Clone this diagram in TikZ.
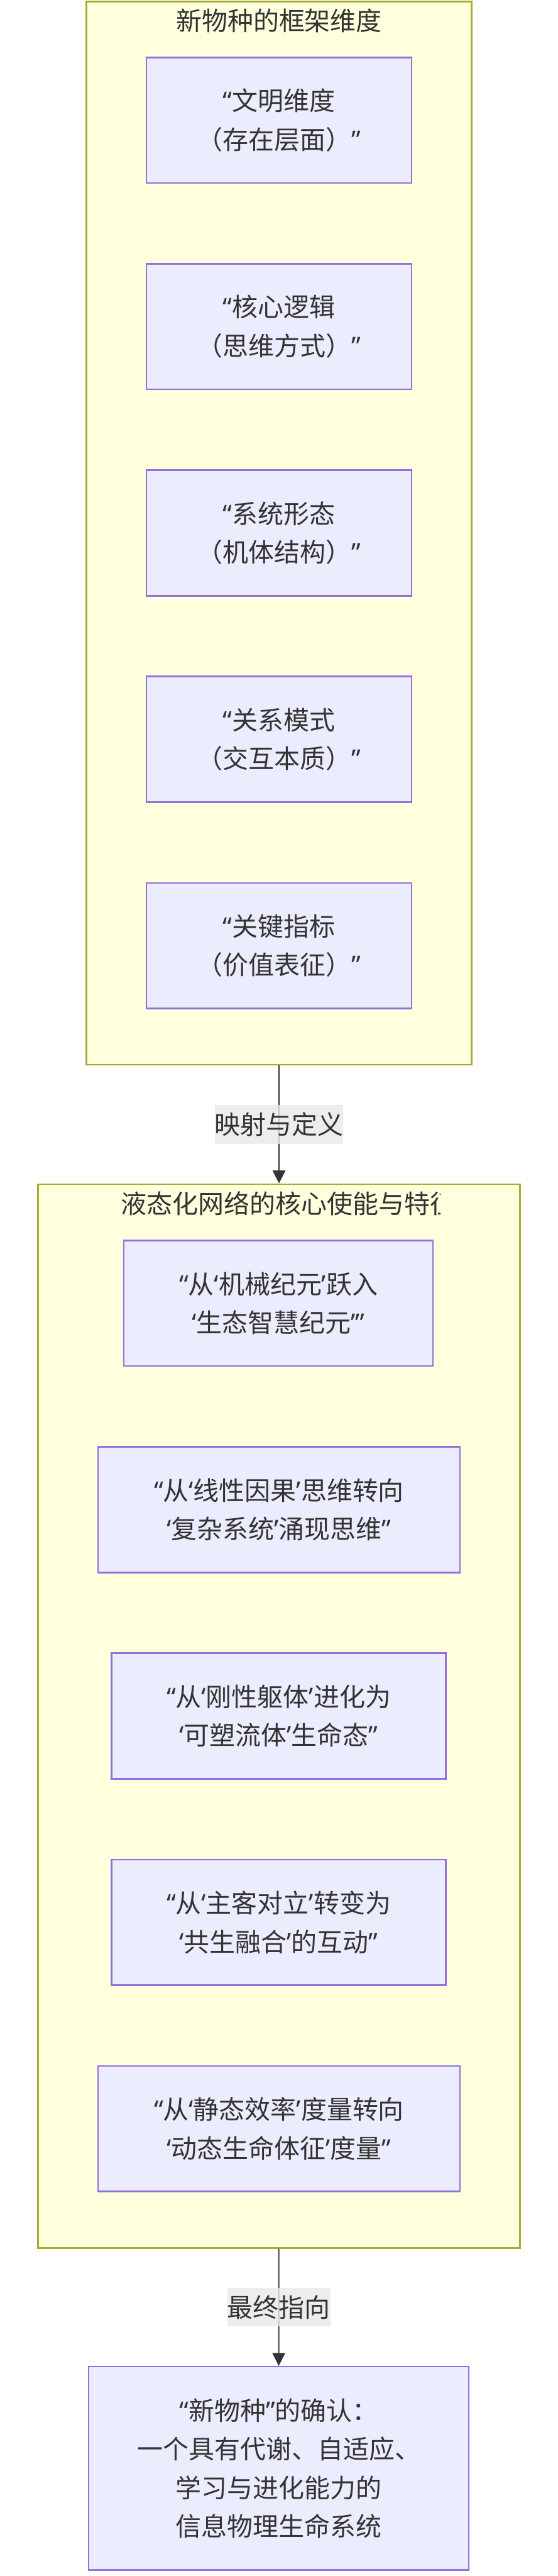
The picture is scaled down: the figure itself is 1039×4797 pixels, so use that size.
\documentclass[tikz,border=0pt]{standalone}
\usepackage{fontspec}
\setmainfont{Noto Sans CJK SC}
\newfontfamily\quotefont{Noto Sans}
\newcommand{\qdl}{{\quotefont “}}
\newcommand{\qdr}{{\quotefont ”}}
\newcommand{\qsl}{{\quotefont ‘}}
\newcommand{\qsr}{{\quotefont ’}}
\usetikzlibrary{arrows.meta}
\definecolor{clusterfill}{HTML}{FFFFDE}
\definecolor{clusterline}{HTML}{AAAA33}
\definecolor{boxfill}{HTML}{ECECFF}
\definecolor{boxline}{HTML}{9370DB}
\definecolor{inkgray}{HTML}{333333}
\definecolor{labelfill}{HTML}{E8E8E8}
\tikzset{
  every node/.style={font=\fontsize{24}{36}\selectfont, text=inkgray},
  cluster/.style={draw=clusterline, fill=clusterfill, line width=1.4pt, rectangle, inner sep=0pt},
  dimbox/.style={draw=boxline, fill=boxfill, line width=1.4pt, rectangle, align=center, inner sep=0pt, minimum height=117pt},
  edgelabel/.style={fill=labelfill, fill opacity=0.8, text opacity=1, inner sep=0pt, minimum height=36pt},
  flow/.style={draw=inkgray, line width=1pt, -{Triangle[length=12pt,width=12pt]}}
}
\begin{document}
\begin{tikzpicture}[x=0.5pt,y=-0.5pt]
\useasboundingbox (0,0) rectangle (1039,4797);
\node[cluster, minimum width=359pt, minimum height=990pt] (c1) at (520,993) {};
\node (t1) at (520,39) {新物种的框架维度};
\node[dimbox, minimum width=247pt] (a) at (520,224) {\qdl 文明维度\\（存在层面）\qdr};
\node[dimbox, minimum width=247pt] (b) at (520,608.25) {\qdl 核心逻辑\\（思维方式）\qdr};
\node[dimbox, minimum width=247pt] (c) at (520,992.5) {\qdl 系统形态\\（机体结构）\qdr};
\node[dimbox, minimum width=247pt] (d) at (520,1376.75) {\qdl 关系模式\\（交互本质）\qdr};
\node[dimbox, minimum width=247pt] (e) at (520,1761) {\qdl 关键指标\\（价值表征）\qdr};
\node[cluster, minimum width=449pt, minimum height=990.5pt] (c2) at (520,3195.5) {};
\begin{scope}
\clip (71,2205) rectangle (820,2280);
\node[anchor=west] (t2) at (218,2241) {液态化网络的核心使能与特征};
\end{scope}
\node[dimbox, minimum width=288pt] (f) at (519,2427) {\qdl 从\qsl 机械纪元\qsr 跃入\\\qsl 生态智慧纪元\qsr\qdr};
\node[dimbox, minimum width=337pt] (g) at (520,2811.25) {\qdl 从\qsl 线性因果\qsr 思维转向\\\qsl 复杂系统\qsr 涌现思维\qdr};
\node[dimbox, minimum width=311.5pt] (h) at (519.5,3195.5) {\qdl 从\qsl 刚性躯体\qsr 进化为\\\qsl 可塑流体\qsr 生命态\qdr};
\node[dimbox, minimum width=311.5pt] (i) at (519.5,3579.75) {\qdl 从\qsl 主客对立\qsr 转变为\\\qsl 共生融合\qsr 的互动\qdr};
\node[dimbox, minimum width=337pt] (j) at (520,3964) {\qdl 从\qsl 静态效率\qsr 度量转向\\\qsl 动态生命体征\qsr 度量\qdr};
\node[dimbox, minimum width=354.5pt, minimum height=189.5pt] (k) at (519.5,4596.5) {\qdl 新物种\qdr 的确认：\\一个具有代谢、自适应、\\学习与进化能力的\\信息物理生命系统};
\draw[flow] (c1) -- node[edgelabel] (l1) {映射与定义} (c2);
\draw[flow] (c2) -- node[edgelabel] (l2) {最终指向} (k);
\end{tikzpicture}
\end{document}
